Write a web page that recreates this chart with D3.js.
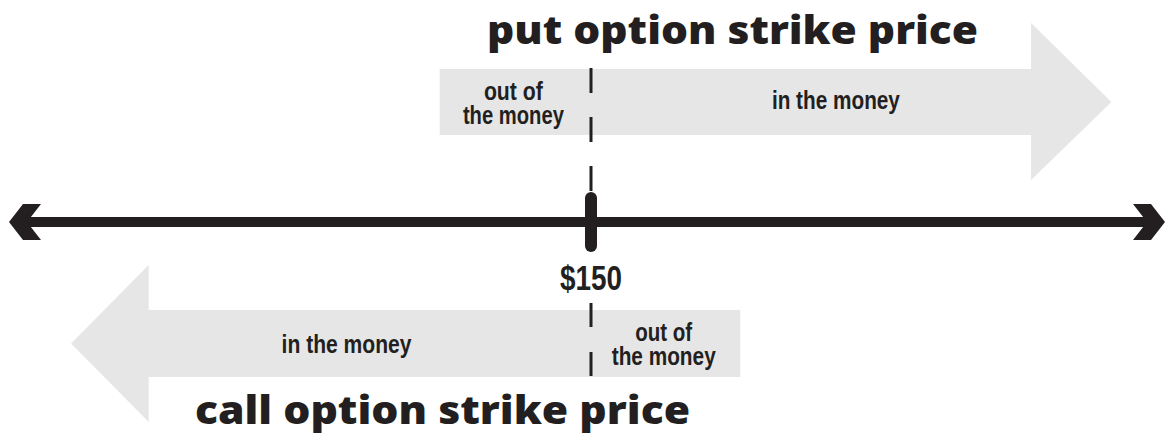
<!DOCTYPE html>
<html>
<head>
<meta charset="utf-8">
<script src="https://cdn.jsdelivr.net/npm/d3@7"></script>
<style>
  body { margin: 0; background: #fff; }
  svg { display: block; }
  .zone { fill: #e6e6e6; }
  .big { font-family: "Open Sans", "DejaVu Sans", sans-serif; font-weight: 800; fill: #231f20; }
  .small { font-family: "Liberation Sans", "DejaVu Sans", sans-serif; font-weight: bold; fill: #231f20; }
</style>
</head>
<body>
<div id="chart"></div>
<script>
const width = 1167
const height = 435

// strike price and price range of the axis
const strike = 150
const priceDomain = [0, 150, 300]

// put option: zones along price (label sits at price "at"), arrow points right
const putZones = [
  {label: ['out of', 'the money'], widths: [59, 101], from: 111, to: 150, at: 130},
  {label: ['in the money'], widths: [128], from: 150, to: 265, at: 214}
]
const putArrowTip = 286

// call option: zones along price, arrow points left
const callZones = [
  {label: ['in the money'], widths: [130], from: 36, to: 150, at: 87},
  {label: ['out of', 'the money'], widths: [57, 104], from: 150, to: 189, at: 169}
]
const callArrowTip = 16

const titles = ['put option strike price', 'call option strike price']

const x = d3.scaleLinear()
    .domain(priceDomain)
    .range([9, 591, 1165])

const ink = '#231f20'

const svg = d3.select('#chart')
    .append('svg')
    .attr('width', width)
    .attr('height', height)

// ---- big grey arrows ----
function arrowPath (from, to, tip, bandTop, bandBot, headTop, headBot) {
    const mid = (bandTop + bandBot) / 2
    if (tip > to) {
        return `M${x(from)},${bandTop} L${x(to)},${bandTop} L${x(to)},${headTop} L${x(tip)},${mid}` +
            ` L${x(to)},${headBot} L${x(to)},${bandBot} L${x(from)},${bandBot} Z`
    }
    return `M${x(to)},${bandTop} L${x(from)},${bandTop} L${x(from)},${headTop} L${x(tip)},${mid}` +
        ` L${x(from)},${headBot} L${x(from)},${bandBot} L${x(to)},${bandBot} Z`
}

svg.append('path')
    .attr('class', 'zone')
    .attr('d', arrowPath(putZones[0].from, putZones[1].to, putArrowTip, 69, 135, 23, 180))

svg.append('path')
    .attr('class', 'zone')
    .attr('d', arrowPath(callZones[0].from, callZones[1].to, callArrowTip, 310, 377, 265, 422))

// ---- zone labels (narrow, squeezed to the widths) ----
function zoneLabels (zones, baseY, singleY) {
    zones.forEach(z => {
        const cx = x(z.at)
        const lh = 24
        const y0 = z.label.length > 1 ? baseY - (z.label.length - 1) * lh / 2 : singleY
        z.label.forEach((line, i) => {
            svg.append('text')
                .attr('class', 'small')
                .attr('x', cx - z.widths[i] / 2)
                .attr('y', y0 + i * lh)
                .attr('font-size', 26)
                .attr('textLength', z.widths[i])
                .attr('lengthAdjust', 'spacingAndGlyphs')
                .text(line)
        })
    })
}
zoneLabels(putZones, 112, 109)
zoneLabels(callZones, 353, 353)

// ---- dashed strike line ----
svg.append('line')
    .attr('x1', x(strike)).attr('x2', x(strike))
    .attr('y1', 68).attr('y2', 192)
    .attr('stroke', ink)
    .attr('stroke-width', 3)
    .attr('stroke-dasharray', '25,24')

svg.append('line')
    .attr('x1', x(strike)).attr('x2', x(strike))
    .attr('y1', 303).attr('y2', 376)
    .attr('stroke', ink)
    .attr('stroke-width', 3)
    .attr('stroke-dasharray', '24,25')

// ---- main axis with arrow heads ----
const axisY = 222
svg.append('line')
    .attr('x1', x(priceDomain[0]) + 12).attr('x2', x(priceDomain[2]) - 12)
    .attr('y1', axisY).attr('y2', axisY)
    .attr('stroke', ink)
    .attr('stroke-width', 10)

function chevron (tipX, dir) {
    const p = [
        [tipX, axisY],
        [tipX + dir * 14, axisY - 18],
        [tipX + dir * 32, axisY - 18],
        [tipX + dir * 18, axisY],
        [tipX + dir * 32, axisY + 18],
        [tipX + dir * 14, axisY + 18]
    ]
    svg.append('path')
        .attr('d', d3.line()(p) + 'Z')
        .attr('fill', ink)
}
chevron(x(priceDomain[0]), 1)
chevron(x(priceDomain[2]), -1)

// strike tick
svg.append('line')
    .attr('x1', x(strike)).attr('x2', x(strike))
    .attr('y1', 198).attr('y2', 246)
    .attr('stroke', ink)
    .attr('stroke-width', 12)
    .attr('stroke-linecap', 'round')

svg.append('text')
    .attr('class', 'small')
    .attr('x', x(strike) - 31)
    .attr('y', 290)
    .attr('font-size', 35)
    .attr('textLength', 62)
    .attr('lengthAdjust', 'spacingAndGlyphs')
    .text('$' + strike)

// ---- titles ----
svg.append('text')
    .attr('class', 'big')
    .attr('x', 487)
    .attr('y', 44)
    .attr('font-size', 38)
    .attr('textLength', 491)
    .attr('lengthAdjust', 'spacingAndGlyphs')
    .text(titles[0])

svg.append('text')
    .attr('class', 'big')
    .attr('x', 195)
    .attr('y', 424)
    .attr('font-size', 38)
    .attr('textLength', 495)
    .attr('lengthAdjust', 'spacingAndGlyphs')
    .text(titles[1])
</script>
</body>
</html>
